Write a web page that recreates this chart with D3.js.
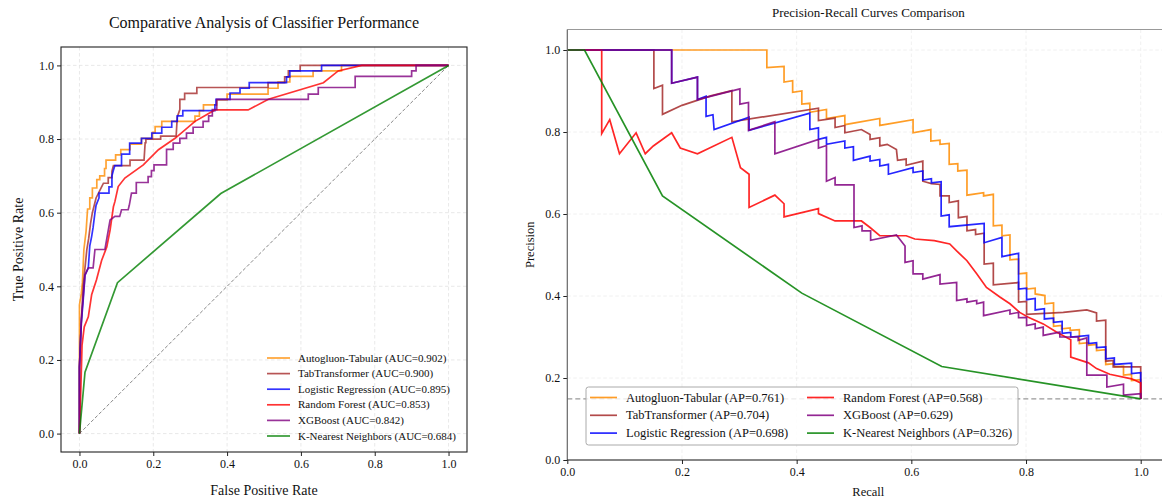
<!DOCTYPE html>
<html>
<head>
<meta charset="utf-8">
<script src="https://cdn.jsdelivr.net/npm/d3@7"></script>
<style>
  body { margin: 0; background: #fff; }
  svg { font-family: "Liberation Serif", "Times New Roman", serif; }
</style>
</head>
<body>
<div id="chart"></div>
<script>
// series names, colours and scores
const models = ["Autogluon-Tabular", "TabTransformer", "Logistic Regression", "Random Forest", "XGBoost", "K-Nearest Neighbors"];
const colors = ["#ff8c00", "#a52a2a", "#0000ff", "#ff0000", "#800080", "#008000"];
const aucValues = ["0.902", "0.900", "0.895", "0.853", "0.842", "0.684"];
const apValues = ["0.761", "0.704", "0.698", "0.568", "0.629", "0.326"];
const tickValues = [0, 0.2, 0.4, 0.6, 0.8, 1.0];
const prBaseline = 0.149;

// ROC curves [fpr, tpr]
const rocAutogluon = [[0,0],[0,0.35],[0.005,0.38],[0.008,0.41],[0.012,0.5],[0.018,0.55],[0.022,0.61],[0.028,0.61],[0.028,0.64],[0.035,0.64],[0.035,0.667],[0.047,0.667],[0.047,0.69],[0.055,0.69],[0.055,0.70],[0.068,0.70],[0.068,0.72],[0.072,0.72],[0.072,0.743],[0.098,0.743],[0.098,0.757],[0.112,0.757],[0.112,0.771],[0.137,0.771],[0.137,0.786],[0.168,0.786],[0.168,0.802],[0.198,0.802],[0.198,0.818],[0.205,0.818],[0.205,0.834],[0.223,0.834],[0.223,0.848],[0.313,0.848],[0.313,0.862],[0.325,0.862],[0.325,0.877],[0.336,0.877],[0.336,0.893],[0.372,0.893],[0.372,0.906],[0.40,0.906],[0.40,0.922],[0.511,0.922],[0.511,0.938],[0.538,0.938],[0.538,0.955],[0.57,0.955],[0.57,0.97],[0.633,0.97],[0.633,0.985],[0.71,0.985],[0.71,1],[1,1]];
const rocTabTransformer = [[0,0],[0,0.18],[0.005,0.3],[0.01,0.4],[0.015,0.45],[0.02,0.5],[0.025,0.53],[0.03,0.57],[0.035,0.6],[0.045,0.64],[0.06,0.67],[0.065,0.68],[0.078,0.68],[0.078,0.695],[0.088,0.695],[0.088,0.712],[0.092,0.728],[0.137,0.728],[0.137,0.743],[0.175,0.743],[0.178,0.79],[0.18,0.79],[0.18,0.8],[0.22,0.8],[0.22,0.808],[0.262,0.808],[0.265,0.86],[0.272,0.88],[0.272,0.908],[0.285,0.908],[0.285,0.924],[0.318,0.924],[0.318,0.94],[0.511,0.94],[0.511,0.953],[0.556,0.953],[0.556,0.969],[0.566,0.969],[0.566,0.985],[0.598,0.985],[0.598,1],[1,1]];
const rocLogistic = [[0,0],[0,0.18],[0.005,0.3],[0.01,0.36],[0.015,0.43],[0.024,0.45],[0.028,0.51],[0.033,0.535],[0.037,0.56],[0.042,0.6],[0.045,0.62],[0.053,0.64],[0.053,0.653],[0.08,0.653],[0.08,0.67],[0.088,0.67],[0.088,0.7],[0.092,0.715],[0.096,0.728],[0.114,0.728],[0.114,0.759],[0.136,0.759],[0.136,0.789],[0.168,0.789],[0.168,0.802],[0.196,0.802],[0.196,0.816],[0.223,0.816],[0.223,0.832],[0.25,0.832],[0.25,0.848],[0.265,0.848],[0.265,0.863],[0.28,0.863],[0.28,0.877],[0.367,0.877],[0.367,0.893],[0.37,0.893],[0.37,0.908],[0.408,0.908],[0.408,0.925],[0.435,0.925],[0.435,0.938],[0.46,0.938],[0.46,0.953],[0.561,0.953],[0.561,0.969],[0.57,0.969],[0.57,0.985],[0.656,0.985],[0.656,1],[1,1]];
const rocRandomForest = [[0,0],[0.004,0.13],[0.007,0.24],[0.013,0.29],[0.024,0.317],[0.033,0.377],[0.046,0.417],[0.06,0.47],[0.074,0.507],[0.083,0.553],[0.092,0.616],[0.096,0.63],[0.105,0.671],[0.123,0.694],[0.173,0.73],[0.214,0.771],[0.259,0.802],[0.313,0.848],[0.367,0.879],[0.457,0.879],[0.512,0.908],[0.661,0.953],[0.701,0.985],[0.765,1],[1,1]];
const rocXGBoost = [[0,0],[0,0.18],[0.005,0.31],[0.015,0.43],[0.024,0.45],[0.037,0.45],[0.042,0.5],[0.069,0.5],[0.075,0.535],[0.083,0.58],[0.096,0.59],[0.109,0.59],[0.114,0.608],[0.132,0.608],[0.135,0.62],[0.141,0.653],[0.154,0.653],[0.154,0.682],[0.186,0.682],[0.186,0.698],[0.195,0.698],[0.195,0.714],[0.202,0.714],[0.202,0.73],[0.236,0.73],[0.236,0.772],[0.254,0.772],[0.254,0.789],[0.272,0.789],[0.272,0.802],[0.29,0.802],[0.29,0.816],[0.308,0.816],[0.308,0.832],[0.335,0.832],[0.335,0.848],[0.35,0.848],[0.35,0.863],[0.36,0.863],[0.36,0.88],[0.372,0.88],[0.372,0.908],[0.62,0.908],[0.62,0.922],[0.647,0.922],[0.647,0.94],[0.747,0.94],[0.747,0.97],[0.9,0.97],[0.9,0.985],[0.912,0.985],[0.912,1],[1,1]];
const rocKnn = [[0,0],[0.015,0.167],[0.103,0.41],[0.383,0.652],[1,1]];

// PR curves [recall, precision]
const prAutogluon = [[0,1],[0.348,1],[0.348,0.957],[0.378,0.96],[0.378,0.922],[0.393,0.925],[0.393,0.897],[0.409,0.9],[0.409,0.868],[0.423,0.87],[0.423,0.848],[0.452,0.855],[0.452,0.833],[0.484,0.84],[0.484,0.818],[0.545,0.833],[0.545,0.816],[0.603,0.83],[0.603,0.798],[0.634,0.806],[0.634,0.778],[0.65,0.78],[0.65,0.77],[0.666,0.772],[0.666,0.721],[0.681,0.723],[0.681,0.705],[0.697,0.707],[0.697,0.646],[0.726,0.652],[0.726,0.644],[0.743,0.648],[0.743,0.571],[0.758,0.573],[0.758,0.547],[0.772,0.549],[0.772,0.488],[0.787,0.49],[0.787,0.454],[0.801,0.456],[0.801,0.417],[0.816,0.419],[0.816,0.405],[0.833,0.401],[0.833,0.381],[0.848,0.383],[0.848,0.326],[0.862,0.328],[0.862,0.32],[0.877,0.322],[0.877,0.316],[0.893,0.318],[0.893,0.284],[0.909,0.286],[0.909,0.28],[0.923,0.282],[0.923,0.267],[0.939,0.269],[0.939,0.233],[0.954,0.235],[0.954,0.227],[0.97,0.229],[0.97,0.207],[0.984,0.209],[0.984,0.194],[1,0.196],[1,0.149]];
const prTabTransformer = [[0,1],[0.151,1],[0.151,0.906],[0.166,0.914],[0.166,0.843],[0.2,0.865],[0.25,0.888],[0.287,0.901],[0.287,0.825],[0.438,0.858],[0.438,0.828],[0.467,0.834],[0.467,0.811],[0.484,0.816],[0.484,0.798],[0.513,0.806],[0.528,0.794],[0.528,0.782],[0.545,0.786],[0.545,0.766],[0.558,0.77],[0.574,0.757],[0.576,0.731],[0.591,0.734],[0.591,0.719],[0.62,0.729],[0.62,0.68],[0.635,0.674],[0.65,0.672],[0.65,0.644],[0.666,0.644],[0.666,0.628],[0.682,0.632],[0.682,0.591],[0.697,0.594],[0.697,0.559],[0.712,0.562],[0.712,0.55],[0.727,0.553],[0.727,0.478],[0.743,0.48],[0.743,0.427],[0.787,0.433],[0.787,0.385],[0.801,0.387],[0.801,0.355],[0.865,0.36],[0.906,0.366],[0.923,0.359],[0.923,0.339],[0.939,0.341],[0.939,0.241],[0.952,0.243],[0.952,0.227],[1,0.227],[1,0.149]];
const prLogistic = [[0,1],[0.182,1],[0.182,0.919],[0.227,0.934],[0.227,0.879],[0.242,0.887],[0.242,0.838],[0.254,0.842],[0.256,0.806],[0.317,0.836],[0.317,0.804],[0.423,0.846],[0.423,0.806],[0.438,0.81],[0.438,0.782],[0.452,0.787],[0.452,0.77],[0.484,0.778],[0.484,0.761],[0.499,0.764],[0.499,0.731],[0.528,0.741],[0.528,0.729],[0.545,0.733],[0.545,0.717],[0.56,0.721],[0.56,0.697],[0.603,0.713],[0.603,0.701],[0.62,0.705],[0.62,0.683],[0.635,0.686],[0.635,0.676],[0.652,0.679],[0.652,0.595],[0.666,0.598],[0.666,0.569],[0.727,0.577],[0.727,0.53],[0.758,0.543],[0.758,0.496],[0.787,0.504],[0.787,0.417],[0.801,0.419],[0.801,0.391],[0.816,0.394],[0.816,0.366],[0.832,0.369],[0.832,0.344],[0.848,0.346],[0.848,0.336],[0.863,0.338],[0.863,0.309],[0.878,0.311],[0.878,0.30],[0.909,0.304],[0.909,0.284],[0.923,0.286],[0.923,0.274],[0.939,0.276],[0.939,0.247],[0.954,0.249],[0.954,0.233],[0.984,0.236],[0.984,0.211],[1,0.213],[1,0.149]];
const prRandomForest = [[0,1],[0.06,1],[0.06,0.796],[0.074,0.83],[0.091,0.747],[0.12,0.798],[0.136,0.747],[0.15,0.766],[0.182,0.798],[0.197,0.761],[0.227,0.747],[0.287,0.787],[0.302,0.713],[0.317,0.697],[0.317,0.616],[0.362,0.646],[0.378,0.625],[0.378,0.593],[0.438,0.613],[0.438,0.601],[0.467,0.583],[0.513,0.583],[0.528,0.567],[0.545,0.547],[0.591,0.547],[0.606,0.539],[0.64,0.535],[0.667,0.527],[0.679,0.51],[0.697,0.486],[0.714,0.454],[0.731,0.421],[0.755,0.397],[0.772,0.381],[0.789,0.36],[0.804,0.348],[0.83,0.332],[0.853,0.312],[0.878,0.293],[0.878,0.251],[0.909,0.237],[0.923,0.223],[0.946,0.209],[0.984,0.198],[1,0.188],[1,0.149]];
const prXGBoost = [[0,1],[0.182,1],[0.182,0.919],[0.227,0.934],[0.227,0.879],[0.301,0.905],[0.301,0.868],[0.316,0.872],[0.316,0.804],[0.362,0.825],[0.362,0.747],[0.438,0.782],[0.438,0.761],[0.452,0.767],[0.452,0.68],[0.467,0.689],[0.467,0.671],[0.5,0.671],[0.5,0.567],[0.514,0.571],[0.514,0.559],[0.529,0.559],[0.529,0.536],[0.574,0.549],[0.589,0.522],[0.589,0.482],[0.603,0.486],[0.603,0.454],[0.62,0.454],[0.62,0.441],[0.65,0.452],[0.65,0.429],[0.679,0.433],[0.679,0.389],[0.697,0.393],[0.697,0.385],[0.714,0.389],[0.714,0.381],[0.726,0.385],[0.726,0.352],[0.772,0.366],[0.772,0.356],[0.787,0.36],[0.787,0.347],[0.801,0.348],[0.801,0.328],[0.816,0.332],[0.816,0.32],[0.83,0.324],[0.83,0.304],[0.859,0.312],[0.859,0.3],[0.891,0.3],[0.891,0.292],[0.906,0.298],[0.906,0.207],[0.941,0.207],[0.941,0.178],[0.97,0.185],[0.97,0.158],[1,0.162],[1,0.149]];
const prKnn = [[0,1],[0.03,1],[0.166,0.644],[0.409,0.407],[0.653,0.228],[1,0.149]];

const rocCurves = [rocAutogluon, rocTabTransformer, rocLogistic, rocRandomForest, rocXGBoost, rocKnn];
const prCurves = [prAutogluon, prTabTransformer, prLogistic, prRandomForest, prXGBoost, prKnn];

const W = 1162, H = 500;
const svg = d3.select("#chart").append("svg").attr("width", W).attr("height", H);
const fmt = d3.format(".1f");

// ---------------- left: ROC ----------------
const L = { left: 61, right: 467, top: 47, bottom: 452 };
const xL = d3.scaleLinear().domain([-0.05, 1.05]).range([L.left, L.right]);
const yL = d3.scaleLinear().domain([-0.05, 1.05]).range([L.bottom, L.top]);
const gL = svg.append("g");

// grid
gL.selectAll(".gx").data(tickValues).join("line")
  .attr("x1", d => xL(d)).attr("x2", d => xL(d)).attr("y1", L.top).attr("y2", L.bottom)
  .attr("stroke", "#e3e3e3").attr("stroke-width", 0.8).attr("stroke-dasharray", "3.5,2.5");
gL.selectAll(".gy").data(tickValues).join("line")
  .attr("y1", d => yL(d)).attr("y2", d => yL(d)).attr("x1", L.left).attr("x2", L.right)
  .attr("stroke", "#e3e3e3").attr("stroke-width", 0.8).attr("stroke-dasharray", "3.5,2.5");

// axes
gL.append("g").attr("transform", `translate(0,${L.bottom})`)
  .call(d3.axisBottom(xL).tickValues(tickValues).tickFormat(fmt).tickSize(4).tickPadding(3))
  .call(g => g.select(".domain").remove());
gL.append("g").attr("transform", `translate(${L.left},0)`)
  .call(d3.axisLeft(yL).tickValues(tickValues).tickFormat(fmt).tickSize(4).tickPadding(3))
  .call(g => g.select(".domain").remove());
gL.selectAll(".tick text").attr("font-size", 12).attr("fill", "#111").style("font-family", "Liberation Serif");
gL.selectAll(".tick line").attr("stroke", "#222");

// diagonal
const lineL = d3.line().x(d => xL(d[0])).y(d => yL(d[1]));
gL.append("path").attr("d", lineL([[0, 0], [1, 1]]))
  .attr("fill", "none").attr("stroke", "#888").attr("stroke-width", 1).attr("stroke-dasharray", "3.5,2");

gL.selectAll(".roc").data(rocCurves).join("path")
  .attr("class", "roc")
  .attr("d", d => lineL(d))
  .attr("fill", "none")
  .attr("stroke", (d, i) => colors[i])
  .attr("stroke-opacity", 0.8)
  .attr("stroke-width", 1.7)
  .attr("stroke-linejoin", "miter");

gL.append("rect").attr("x", L.left).attr("y", L.top)
  .attr("width", L.right - L.left).attr("height", L.bottom - L.top)
  .attr("fill", "none").attr("stroke", "#222").attr("stroke-width", 1.1);

// legend
const legL = gL.append("g").attr("transform", "translate(267,358)");
models.forEach((m, i) => {
  const row = legL.append("g").attr("transform", `translate(0,${i * 15.6})`);
  row.append("line").attr("x1", 0).attr("x2", 23).attr("y1", 0).attr("y2", 0)
    .attr("stroke", colors[i]).attr("stroke-opacity", 0.8).attr("stroke-width", 1.7);
  row.append("text").attr("x", 31).attr("y", 0).attr("dy", "0.33em")
    .attr("font-size", 11).attr("fill", "#111").text(`${m} (AUC=${aucValues[i]})`);
});

svg.append("text").attr("x", (L.left + L.right) / 2).attr("y", 28)
  .attr("text-anchor", "middle").attr("font-size", 16).attr("fill", "#111")
  .text("Comparative Analysis of Classifier Performance");
svg.append("text").attr("x", (L.left + L.right) / 2).attr("y", 495)
  .attr("text-anchor", "middle").attr("font-size", 14).attr("fill", "#111")
  .text("False Positive Rate");
svg.append("text").attr("transform", `translate(23,${(L.top + L.bottom) / 2}) rotate(-90)`)
  .attr("text-anchor", "middle").attr("font-size", 14).attr("fill", "#111")
  .text("True Positive Rate");

// ---------------- right: PR ----------------
const R = { left: 567.3, top: 29.5, bottom: 460 };
const xR = d3.scaleLinear().domain([0, 1.05]).range([R.left, R.left + 1.05 * 573.4]);
const yR = d3.scaleLinear().domain([0, 1.05]).range([R.bottom, R.top]);
const gR = svg.append("g");
const rightEdge = xR(1.05);

gR.selectAll(".gx").data(tickValues.slice(1)).join("line")
  .attr("x1", d => xR(d)).attr("x2", d => xR(d)).attr("y1", R.top).attr("y2", R.bottom)
  .attr("stroke", "#ececec").attr("stroke-width", 0.8).attr("stroke-dasharray", "3.5,2.5");
gR.selectAll(".gy").data(tickValues.slice(1)).join("line")
  .attr("y1", d => yR(d)).attr("y2", d => yR(d)).attr("x1", R.left).attr("x2", rightEdge)
  .attr("stroke", "#ececec").attr("stroke-width", 0.8).attr("stroke-dasharray", "3.5,2.5");

gR.append("g").attr("transform", `translate(0,${R.bottom})`)
  .call(d3.axisBottom(xR).tickValues(tickValues).tickFormat(fmt).tickSize(4).tickPadding(3))
  .call(g => g.select(".domain").remove());
gR.append("g").attr("transform", `translate(${R.left},0)`)
  .call(d3.axisLeft(yR).tickValues(tickValues).tickFormat(fmt).tickSize(4).tickPadding(3))
  .call(g => g.select(".domain").remove());
gR.selectAll(".tick text").attr("font-size", 12).attr("fill", "#111").style("font-family", "Liberation Serif");
gR.selectAll(".tick line").attr("stroke", "#222");

// baseline
gR.append("line").attr("x1", R.left).attr("x2", rightEdge)
  .attr("y1", yR(prBaseline)).attr("y2", yR(prBaseline))
  .attr("stroke", "#999").attr("stroke-width", 1.2).attr("stroke-dasharray", "5,3");

const lineR = d3.line().x(d => xR(d[0])).y(d => yR(d[1]));
gR.selectAll(".pr").data(prCurves).join("path")
  .attr("class", "pr")
  .attr("d", d => lineR(d))
  .attr("fill", "none")
  .attr("stroke", (d, i) => colors[i])
  .attr("stroke-opacity", 0.85)
  .attr("stroke-width", 1.7);

// spines
gR.append("line").attr("x1", R.left).attr("x2", rightEdge).attr("y1", R.top).attr("y2", R.top)
  .attr("stroke", "#999").attr("stroke-width", 1.2);
gR.append("line").attr("x1", R.left).attr("x2", R.left).attr("y1", R.top).attr("y2", R.bottom)
  .attr("stroke", "#666").attr("stroke-width", 1.2);
gR.append("line").attr("x1", R.left).attr("x2", rightEdge).attr("y1", R.bottom).attr("y2", R.bottom)
  .attr("stroke", "#111").attr("stroke-width", 1.2);

// legend box
const legR = gR.append("g").attr("transform", "translate(586,387)");
legR.append("rect").attr("width", 432).attr("height", 58).attr("rx", 2.5)
  .attr("fill", "#fff").attr("fill-opacity", 0.8).attr("stroke", "#aaa").attr("stroke-width", 1);
models.forEach((m, i) => {
  const col = Math.floor(i / 3), r = i % 3;
  const row = legR.append("g").attr("transform", `translate(${4 + col * 217},${10.5 + r * 17.8})`);
  row.append("line").attr("x1", 0).attr("x2", 27).attr("y1", 0).attr("y2", 0)
    .attr("stroke", colors[i]).attr("stroke-opacity", 0.85).attr("stroke-width", 1.7);
  row.append("text").attr("x", 36).attr("y", 0).attr("dy", "0.33em")
    .attr("font-size", 12.5).attr("fill", "#111").text(`${m} (AP=${apValues[i]})`);
});

svg.append("text").attr("x", (R.left + rightEdge) / 2).attr("y", 17)
  .attr("text-anchor", "middle").attr("font-size", 13).attr("fill", "#111")
  .text("Precision-Recall Curves Comparison");
svg.append("text").attr("x", (R.left + rightEdge) / 2).attr("y", 496)
  .attr("text-anchor", "middle").attr("font-size", 12.5).attr("fill", "#111")
  .text("Recall");
svg.append("text").attr("transform", `translate(534,${(R.top + R.bottom) / 2}) rotate(-90)`)
  .attr("text-anchor", "middle").attr("font-size", 12.5).attr("fill", "#111")
  .text("Precision");
</script>
</body>
</html>
